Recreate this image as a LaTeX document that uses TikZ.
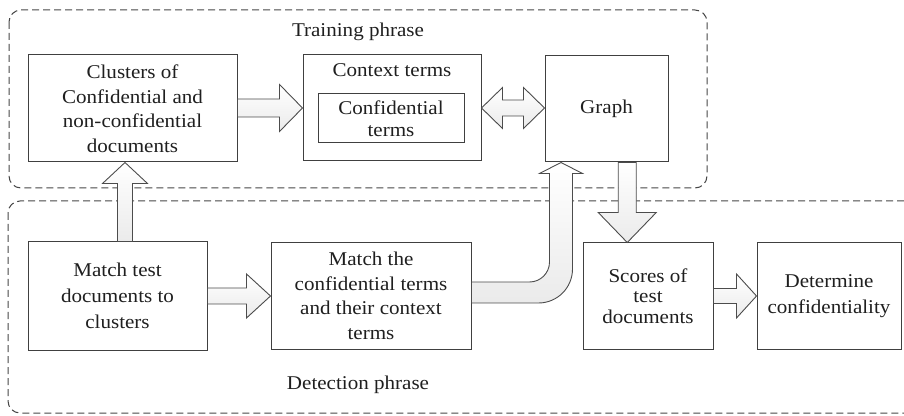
\documentclass[tikz,border=0pt]{standalone}
\usepackage{fontspec}
\setmainfont{Liberation Serif}[FakeStretch=1.08]
\usetikzlibrary{calc}

% block arrow pointing right, from the east side of #1 to the west side of #2
% #3 half shaft width, #4 half head width, #5 head length
\newcommand{\rightblock}[5]{%
  \draw[blockarrow] let \p1=(#1), \p2=(#2) in
    (\x1,{\y2+#3}) -- ({\x2-#5},{\y2+#3}) -- ({\x2-#5},{\y2+#4}) -- (\x2,\y2)
    -- ({\x2-#5},{\y2-#4}) -- ({\x2-#5},{\y2-#3}) -- (\x1,{\y2-#3}) -- cycle;}

\begin{document}
\begin{tikzpicture}[x=1pt,y=1pt,
  txt/.style={text=black!88, font=\fontsize{19.5}{24.5}\selectfont},
  box/.style={txt, draw=black!75, line width=1pt, fill=white, align=center, inner sep=0pt},
  phase/.style={draw=black!72, line width=1pt, dash pattern=on 7pt off 4pt, rounded corners=12pt},
  blockarrow/.style={draw=black!70, line width=0.9pt, line join=miter, top color=white, bottom color=black!8},
]
\useasboundingbox (0,0) rectangle (904,415);

% phase frames
\draw[phase] (9,405) rectangle (707,227);
\draw[phase] (8,214) rectangle (940,2);
\node[txt, anchor=base] (trainlbl) at (358,378) {Training phrase};
\node[txt, anchor=base] (detectlbl) at (358,26) {Detection phrase};

% training boxes
\node[box, minimum width=209pt, minimum height=107pt] (clus) at (132.5,306.5)
  {Clusters of\\Confidential and\\non-confidential\\documents};
\node[box, minimum width=178pt, minimum height=106pt] (ctx) at (392,307) {};
\node[txt, anchor=base] (ctxlbl) at (392,338) {Context terms};
\node[box, minimum width=146pt, minimum height=49pt, font=\fontsize{19.5}{22}\selectfont] (conf) at (391,296.5)
  {Confidential\\terms};
\node[box, minimum width=123pt, minimum height=106pt] (graph) at (606.5,306) {Graph};

% detection boxes
\node[box, minimum width=179pt, minimum height=108pt, font=\fontsize{19.5}{26}\selectfont] (mt) at (117.5,119)
  {Match test\\documents to\\clusters};
\node[box, minimum width=200pt, minimum height=106pt] (mc) at (371,119)
  {Match the\\confidential terms\\and their context\\terms};
\node[box, minimum width=130pt, minimum height=106pt, font=\fontsize{19.5}{20.5}\selectfont] (sc) at (648,119)
  {Scores of\\test\\documents};
\node[box, minimum width=144pt, minimum height=106pt, font=\fontsize{19.5}{26.5}\selectfont] (det) at (829,119)
  {Determine\\confidentiality};

% horizontal block arrows
\rightblock{clus.east}{ctx.west}{9pt}{23.5pt}{23pt}
\rightblock{mt.east}{mc.west}{8pt}{22pt}{24pt}
\rightblock{sc.east}{det.west}{7.5pt}{22pt}{20pt}

% double arrow between context terms and graph
\draw[blockarrow] let \p1=(ctx.east), \p2=(graph.west) in
  (\x1,\y1) -- ({\x1+21pt},{\y1+20.5pt}) -- ({\x1+21pt},{\y1+8pt}) -- ({\x2-21pt},{\y1+8pt})
  -- ({\x2-21pt},{\y1+20.5pt}) -- (\x2,\y1) -- ({\x2-21pt},{\y1-20.5pt}) -- ({\x2-21pt},{\y1-8pt})
  -- ({\x1+21pt},{\y1-8pt}) -- ({\x1+21pt},{\y1-20.5pt}) -- cycle;

% up arrow: matching test documents to clusters
\draw[blockarrow] let \p1=(mt.north), \p2=(clus.south), \n1={(\x1+\x2)/2} in
  ({\n1-7.5pt},\y1) -- ({\n1-7.5pt},{\y2-21pt}) -- ({\n1-22.5pt},{\y2-21pt}) -- (\n1,\y2)
  -- ({\n1+22.5pt},{\y2-21pt}) -- ({\n1+7.5pt},{\y2-21pt}) -- ({\n1+7.5pt},\y1) -- cycle;

% down arrow: graph to scores
\draw[blockarrow] let \p1=(graph.south), \p2=(sc.north), \n1={(\x1+\x2)/2} in
  ({\n1-9pt},\y1) -- ({\n1-9pt},{\y2+30pt}) -- ({\n1-29pt},{\y2+30pt}) -- (\n1,\y2)
  -- ({\n1+29pt},{\y2+30pt}) -- ({\n1+9pt},{\y2+30pt}) -- ({\n1+9pt},\y1) -- cycle;

% bent arrow: matched terms up to the graph
\draw[blockarrow] let \p1=(mc.east), \p2=(graph.south west) in
  (\x1,{\y1+14pt}) -- ({\x2-15pt},{\y1+14pt}) arc[start angle=-90, end angle=0, radius=20pt]
  -- ({\x2+5pt},{\y2-11pt}) -- ({\x2-5pt},{\y2-11pt}) -- ({\x2+16.5pt},\y2)
  -- ({\x2+38pt},{\y2-11pt}) -- ({\x2+28pt},{\y2-11pt}) -- ({\x2+28pt},{\y1+27pt})
  arc[start angle=0, end angle=-90, radius=34pt] -- (\x1,{\y1-7pt}) -- cycle;
\end{tikzpicture}
\end{document}
